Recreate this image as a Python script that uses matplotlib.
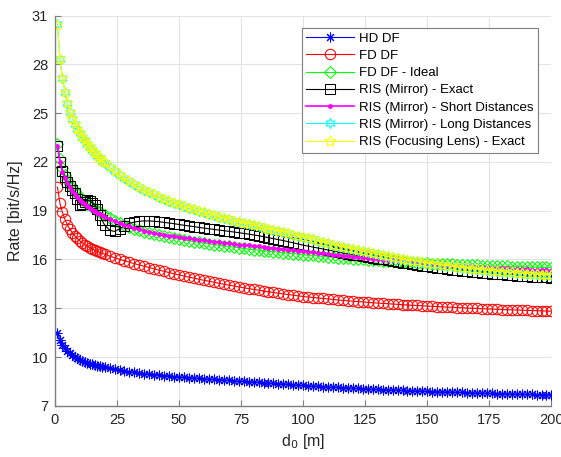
import matplotlib
matplotlib.use('Agg')
import matplotlib.pyplot as plt

plt.rcParams['font.family'] = ['Liberation Sans', 'DejaVu Sans']

# distance grid d0 [m]: every metre up to 20 m, then every 2 m
d0 = list(range(1, 21)) + list(range(22, 201, 2))

# HD DF
rate_hd = [11.50, 11.05, 10.76, 10.54, 10.37, 10.23, 10.11, 10.01, 9.92, 9.84,
           9.77, 9.71, 9.65, 9.60, 9.55, 9.51, 9.47, 9.43, 9.39, 9.36,
           9.30, 9.24, 9.19, 9.14, 9.10, 9.06, 9.02, 8.98, 8.95, 8.92,
           8.89, 8.86, 8.83, 8.80, 8.78, 8.75, 8.73, 8.71, 8.68, 8.66,
           8.64, 8.62, 8.60, 8.58, 8.56, 8.54, 8.52, 8.50, 8.48, 8.46,
           8.44, 8.42, 8.40, 8.38, 8.36, 8.34, 8.32, 8.29, 8.27, 8.25,
           8.23, 8.21, 8.20, 8.18, 8.16, 8.14, 8.13, 8.11, 8.10, 8.08,
           8.07, 8.05, 8.04, 8.02, 8.01, 8.00, 7.98, 7.97, 7.96, 7.95,
           7.94, 7.92, 7.91, 7.90, 7.89, 7.88, 7.87, 7.86, 7.85, 7.84,
           7.83, 7.82, 7.81, 7.80, 7.79, 7.78, 7.77, 7.76, 7.75, 7.74,
           7.73, 7.72, 7.72, 7.71, 7.70, 7.70, 7.69, 7.69, 7.68, 7.68]

# FD DF
rate_fd = [20.45, 19.45, 18.90, 18.47, 18.13, 17.86, 17.64, 17.45, 17.29, 17.15,
           17.03, 16.92, 16.82, 16.73, 16.65, 16.57, 16.50, 16.44, 16.38, 16.32,
           16.21, 16.11, 16.01, 15.92, 15.83, 15.74, 15.66, 15.58, 15.50, 15.42,
           15.34, 15.27, 15.19, 15.12, 15.05, 14.98, 14.91, 14.85, 14.78, 14.72,
           14.66, 14.60, 14.54, 14.48, 14.42, 14.37, 14.31, 14.26, 14.21, 14.16,
           14.11, 14.06, 14.01, 13.97, 13.92, 13.88, 13.84, 13.80, 13.76, 13.72,
           13.69, 13.66, 13.63, 13.60, 13.57, 13.54, 13.51, 13.48, 13.46, 13.43,
           13.41, 13.39, 13.36, 13.34, 13.32, 13.30, 13.28, 13.26, 13.24, 13.22,
           13.20, 13.18, 13.17, 13.15, 13.13, 13.12, 13.10, 13.09, 13.07, 13.06,
           13.04, 13.03, 13.01, 13.00, 12.99, 12.97, 12.96, 12.95, 12.94, 12.92,
           12.91, 12.90, 12.89, 12.88, 12.87, 12.86, 12.85, 12.84, 12.83, 12.82]

# FD DF - Ideal
rate_fd_ideal = [23.10, 22.15, 21.60, 21.20, 20.90, 20.65, 20.42, 20.22, 20.03, 19.86,
                 19.71, 19.57, 19.44, 19.32, 19.21, 19.10, 19.00, 18.90, 18.80, 18.71,
                 18.54, 18.39, 18.25, 18.12, 18.00, 17.89, 17.79, 17.70, 17.62, 17.55,
                 17.48, 17.42, 17.36, 17.30, 17.25, 17.20, 17.15, 17.10, 17.05, 17.00,
                 16.96, 16.92, 16.88, 16.84, 16.80, 16.76, 16.72, 16.68, 16.64, 16.61,
                 16.57, 16.54, 16.51, 16.48, 16.45, 16.42, 16.39, 16.36, 16.33, 16.30,
                 16.27, 16.25, 16.22, 16.19, 16.17, 16.14, 16.12, 16.10, 16.07, 16.05,
                 16.03, 16.01, 15.99, 15.97, 15.95, 15.93, 15.91, 15.89, 15.87, 15.85,
                 15.83, 15.82, 15.80, 15.78, 15.77, 15.75, 15.74, 15.72, 15.71, 15.70,
                 15.68, 15.67, 15.66, 15.65, 15.64, 15.62, 15.61, 15.60, 15.59, 15.58,
                 15.57, 15.56, 15.55, 15.55, 15.54, 15.53, 15.52, 15.51, 15.51, 15.50]

# RIS (Mirror) - Exact
rate_mirror = [23.00, 22.00, 21.45, 21.10, 20.75, 20.50, 20.28, 20.10, 19.72, 19.35,
               19.40, 19.55, 19.65, 19.60, 19.50, 19.35, 19.10, 18.75, 18.40, 18.12,
               17.80, 17.72, 17.88, 18.08, 18.22, 18.30, 18.35, 18.37, 18.37, 18.35,
               18.32, 18.28, 18.24, 18.20, 18.15, 18.10, 18.06, 18.02, 17.97, 17.93,
               17.89, 17.85, 17.81, 17.77, 17.73, 17.69, 17.65, 17.60, 17.56, 17.51,
               17.46, 17.40, 17.34, 17.28, 17.22, 17.16, 17.09, 17.02, 16.95, 16.88,
               16.82, 16.76, 16.70, 16.64, 16.58, 16.52, 16.46, 16.40, 16.35, 16.30,
               16.25, 16.20, 16.15, 16.10, 16.05, 16.00, 15.95, 15.90, 15.85, 15.81,
               15.76, 15.71, 15.67, 15.62, 15.58, 15.54, 15.50, 15.46, 15.42, 15.38,
               15.35, 15.31, 15.28, 15.25, 15.22, 15.19, 15.16, 15.13, 15.10, 15.08,
               15.05, 15.03, 15.01, 14.99, 14.97, 14.95, 14.93, 14.92, 14.90, 14.89]

# RIS (Mirror) - Short Distances
rate_short = [23.00, 22.00, 21.40, 21.00, 20.70, 20.45, 20.22, 20.02, 19.84, 19.68,
              19.53, 19.40, 19.28, 19.17, 19.07, 18.97, 18.88, 18.79, 18.71, 18.63,
              18.49, 18.36, 18.24, 18.13, 18.03, 17.94, 17.85, 17.77, 17.69, 17.62,
              17.56, 17.51, 17.46, 17.42, 17.37, 17.33, 17.29, 17.25, 17.21, 17.17,
              17.13, 17.10, 17.06, 17.03, 16.99, 16.96, 16.92, 16.89, 16.86, 16.83,
              16.80, 16.76, 16.73, 16.70, 16.67, 16.64, 16.61, 16.58, 16.55, 16.52,
              16.48, 16.44, 16.41, 16.37, 16.34, 16.30, 16.27, 16.24, 16.20, 16.17,
              16.14, 16.11, 16.08, 16.05, 16.02, 15.99, 15.96, 15.94, 15.91, 15.88,
              15.86, 15.83, 15.81, 15.78, 15.76, 15.74, 15.72, 15.69, 15.67, 15.65,
              15.63, 15.61, 15.59, 15.57, 15.55, 15.53, 15.52, 15.50, 15.48, 15.46,
              15.45, 15.43, 15.42, 15.40, 15.39, 15.37, 15.36, 15.35, 15.33, 15.32]

# RIS (Mirror) - Long Distances
rate_long = [30.45, 28.32, 27.16, 26.30, 25.62, 25.06, 24.66, 24.33, 24.05, 23.80,
             23.56, 23.33, 23.11, 22.91, 22.72, 22.54, 22.37, 22.21, 22.06, 21.92,
             21.66, 21.42, 21.20, 20.99, 20.80, 20.62, 20.45, 20.29, 20.14, 20.00,
             19.87, 19.74, 19.62, 19.50, 19.39, 19.28, 19.18, 19.08, 18.98, 18.89,
             18.80, 18.71, 18.63, 18.55, 18.47, 18.39, 18.31, 18.24, 18.17, 18.10,
             18.03, 17.96, 17.88, 17.81, 17.74, 17.67, 17.60, 17.53, 17.46, 17.39,
             17.31, 17.23, 17.15, 17.07, 16.99, 16.92, 16.84, 16.77, 16.70, 16.63,
             16.56, 16.49, 16.43, 16.37, 16.31, 16.25, 16.19, 16.13, 16.08, 16.03,
             15.98, 15.93, 15.88, 15.83, 15.78, 15.74, 15.70, 15.66, 15.62, 15.58,
             15.54, 15.50, 15.47, 15.43, 15.40, 15.37, 15.34, 15.31, 15.28, 15.25,
             15.22, 15.20, 15.17, 15.15, 15.13, 15.11, 15.09, 15.07, 15.06, 15.05]

# RIS (Focusing Lens) - Exact
rate_lens = [30.40, 28.30, 27.15, 26.30, 25.62, 25.06, 24.66, 24.33, 24.05, 23.80,
             23.56, 23.33, 23.11, 22.91, 22.72, 22.54, 22.37, 22.21, 22.06, 21.92,
             21.66, 21.42, 21.20, 20.99, 20.80, 20.62, 20.45, 20.29, 20.14, 20.00,
             19.87, 19.74, 19.62, 19.50, 19.39, 19.28, 19.18, 19.08, 18.98, 18.89,
             18.80, 18.71, 18.63, 18.55, 18.47, 18.39, 18.31, 18.24, 18.17, 18.10,
             18.03, 17.96, 17.88, 17.81, 17.74, 17.67, 17.60, 17.53, 17.46, 17.39,
             17.31, 17.23, 17.15, 17.07, 16.99, 16.92, 16.84, 16.77, 16.70, 16.63,
             16.56, 16.49, 16.43, 16.37, 16.31, 16.25, 16.19, 16.13, 16.08, 16.03,
             15.98, 15.93, 15.88, 15.83, 15.78, 15.74, 15.70, 15.66, 15.62, 15.58,
             15.54, 15.50, 15.47, 15.43, 15.40, 15.37, 15.34, 15.31, 15.28, 15.25,
             15.22, 15.20, 15.17, 15.15, 15.13, 15.11, 15.09, 15.07, 15.06, 15.05]

labels = ['HD DF', 'FD DF', 'FD DF - Ideal', 'RIS (Mirror) - Exact',
          'RIS (Mirror) - Short Distances', 'RIS (Mirror) - Long Distances',
          'RIS (Focusing Lens) - Exact']

x_ticks = [0, 25, 50, 75, 100, 125, 150, 175, 200]
y_ticks = [7, 10, 13, 16, 19, 22, 25, 28, 31]

fig = plt.figure(figsize=(5.61, 4.57), dpi=100)
ax = fig.add_axes([0.098, 0.112, 0.885, 0.854])

lw = 0.8
mw = 0.75
asterisk = (8, 2, 0)     # MATLAB '*'
pentagram = (5, 1, 0)    # MATLAB 'p'
hexagram = (6, 1, 0)     # MATLAB 'h'

ax.plot(d0, rate_hd, color='#0000ff', marker=asterisk, ms=7, mew=mw, lw=lw, label=labels[0])
ax.plot(d0, rate_fd, color='#ff0000', marker='o', mfc='none', ms=7.5, mew=mw, lw=lw, label=labels[1])
ax.plot(d0, rate_fd_ideal, color='#00ff00', marker='D', mfc='none', ms=6, mew=mw, lw=lw, label=labels[2])
ax.plot(d0, rate_mirror, color='#000000', marker='s', mfc='none', ms=6.5, mew=mw, lw=lw, label=labels[3])
ax.plot(d0, rate_short, color='#ff00ff', marker='.', ms=5, lw=1.2, label=labels[4])
ax.plot(d0, rate_long, color='#00ffff', marker=hexagram, mfc='none', ms=7.5, mew=mw, lw=lw, label=labels[5])
ax.plot(d0, rate_lens, color='#ffff00', marker=pentagram, mfc='none', ms=8, mew=mw, lw=lw, label=labels[6])

ax.set_xlim(0, 200)
ax.set_ylim(7, 31)
ax.set_xticks(x_ticks)
ax.set_yticks(y_ticks)
ax.grid(True, color='#e3e3e3', lw=0.8)
ax.set_axisbelow(True)
for s in ['top', 'right']:
    ax.spines[s].set_visible(False)
for s in ['left', 'bottom']:
    ax.spines[s].set_color('#7f7f7f')
    ax.spines[s].set_linewidth(1.0)
ax.tick_params(direction='in', length=4, width=0.8, color='#7f7f7f',
               labelsize=10.5, labelcolor='#262626', pad=5)

ax.set_xlabel('d$_0$ [m]', fontsize=11.5, color='#262626', labelpad=4)
ax.set_ylabel('Rate [bit/s/Hz]', fontsize=11.5, color='#262626', labelpad=6)

leg = ax.legend(loc='upper right', bbox_to_anchor=(0.973, 0.9685), borderaxespad=0,
                fontsize=9.5, handlelength=3.6, handletextpad=0.4, labelspacing=0.38,
                borderpad=0.35, fancybox=False, framealpha=1)
leg.get_frame().set_edgecolor('#7f7f7f')
leg.get_frame().set_linewidth(0.8)

plt.savefig('out.png', dpi=100)
